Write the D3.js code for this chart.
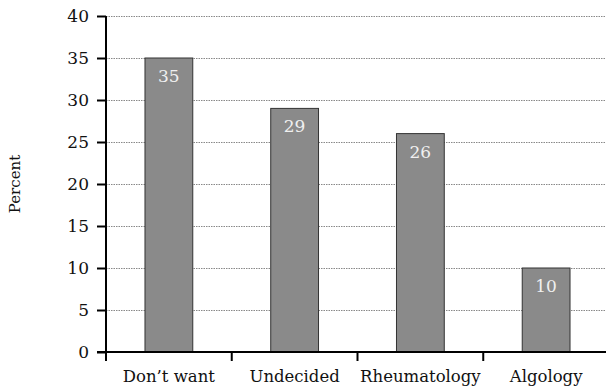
<!DOCTYPE html>
<html>
<head>
<meta charset="utf-8">
<script src="https://cdn.jsdelivr.net/npm/d3@7"></script>
<style>
  body { margin: 0; background: #fff; }
  svg { display: block; }
</style>
</head>
<body>
<svg id="chart" width="606" height="391"></svg>
<script>
// Preferred follow-up department
const categories = ["Don\u2019t want", "Undecided", "Rheumatology", "Algology"];
const percents = [35, 29, 26, 10];
const yTicks = [0, 5, 10, 15, 20, 25, 30, 35, 40];

const svg = d3.select("#chart");
const margin = { left: 106, right: -3, top: 16, bottom: 39 };
const W = 606, H = 391;
const fontFamily = "'DejaVu Serif', 'Liberation Serif', serif";

const x = d3.scaleBand()
  .domain(categories)
  .range([margin.left, W - margin.right])
  .paddingInner(0.62)
  .paddingOuter(0.31);

const y = d3.scaleLinear()
  .domain([0, 40])
  .range([H - margin.bottom, margin.top]);

// Dotted gridlines
svg.append("g")
  .selectAll("line")
  .data(yTicks.filter(d => d > 0))
  .join("line")
  .attr("x1", margin.left)
  .attr("x2", W)
  .attr("y1", d => Math.round(y(d)) + 0.5)
  .attr("y2", d => Math.round(y(d)) + 0.5)
  .attr("stroke", "#888")
  .attr("stroke-width", 1)
  .attr("stroke-dasharray", "1.5,1");

// Bars
svg.append("g")
  .selectAll("rect")
  .data(percents)
  .join("rect")
  .attr("x", (d, i) => x(categories[i]))
  .attr("width", x.bandwidth())
  .attr("y", d => y(d))
  .attr("height", d => y(0) - y(d))
  .attr("fill", "#8a8a8a")
  .attr("stroke", "#333")
  .attr("stroke-width", 1);

// Value labels inside the bars
svg.append("g")
  .selectAll("text")
  .data(percents)
  .join("text")
  .attr("x", (d, i) => x(categories[i]) + x.bandwidth() / 2)
  .attr("y", d => y(d) + 24)
  .attr("text-anchor", "middle")
  .attr("fill", "#f0f0f0")
  .attr("font-family", fontFamily)
  .attr("font-size", 17)
  .text(d => d);

// Y axis
const yAxis = svg.append("g")
  .attr("transform", `translate(${margin.left},0)`)
  .call(d3.axisLeft(y).tickValues(yTicks).tickSize(9).tickPadding(8));
yAxis.select(".domain").attr("stroke", "#000").attr("stroke-width", 2).attr("d", `M0,${margin.top}V${y(0)}`);
yAxis.selectAll(".tick line").attr("stroke", "#000").attr("stroke-width", 2);
yAxis.selectAll("text")
  .attr("font-family", fontFamily)
  .attr("font-size", 17)
  .attr("fill", "#111");

// X axis: ticks at band boundaries
const xg = svg.append("g");
xg.append("line")
  .attr("x1", margin.left - 9)
  .attr("x2", W)
  .attr("y1", y(0))
  .attr("y2", y(0))
  .attr("stroke", "#000")
  .attr("stroke-width", 2);
const step = x.step();
const boundaries = categories.map((c, i) => margin.left + i * step);
xg.selectAll(".xt")
  .data(boundaries)
  .join("line")
  .attr("class", "xt")
  .attr("x1", d => d)
  .attr("x2", d => d)
  .attr("y1", y(0))
  .attr("y2", y(0) + 9)
  .attr("stroke", "#000")
  .attr("stroke-width", 2);
xg.selectAll("text")
  .data(categories)
  .join("text")
  .attr("x", d => x(d) + x.bandwidth() / 2)
  .attr("y", y(0) + 30)
  .attr("text-anchor", "middle")
  .attr("font-family", fontFamily)
  .attr("font-size", 16.5)
  .attr("fill", "#111")
  .text(d => d);

// Y axis title
svg.append("text")
  .attr("transform", `translate(20,${(margin.top + y(0)) / 2}) rotate(-90)`)
  .attr("text-anchor", "middle")
  .attr("font-family", fontFamily)
  .attr("font-size", 15)
  .attr("fill", "#111")
  .text("Percent");
</script>
</body>
</html>
